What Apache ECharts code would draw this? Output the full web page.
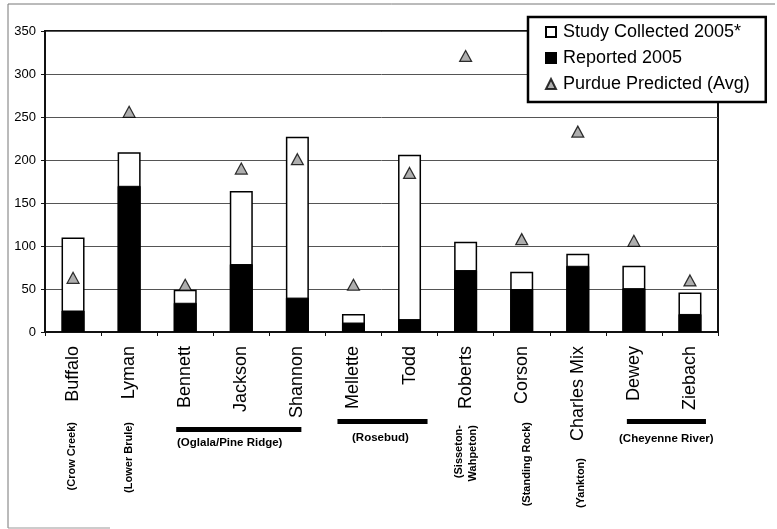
<!DOCTYPE html>
<html>
<head>
<meta charset="utf-8">
<script src="https://cdn.jsdelivr.net/npm/echarts@6/dist/echarts.min.js"></script>
<style>
  html,body{margin:0;padding:0;background:#fff;}
  #chart{width:777px;height:529px;}
</style>
</head>
<body>
<div id="chart"></div>
<script>
  // counties (x categories)
  var counties = ['Buffalo', 'Lyman', 'Bennett', 'Jackson', 'Shannon', 'Mellette', 'Todd', 'Roberts', 'Corson', 'Charles Mix', 'Dewey', 'Ziebach'];
  var studyCollected = [110, 209, 49, 164, 227, 21, 206, 105, 70, 91, 77, 46];
  var reported2005 = [25, 170, 34, 79, 40, 11, 15, 72, 50, 77, 51, 21];
  var purduePredicted = [63, 256, 55, 190, 201, 55, 185, 321, 108, 233, 106, 60];
  var seriesNames = ['Study Collected 2005*', 'Reported 2005', 'Purdue Predicted (Avg)'];

  // reservation labels under single counties
  var singleCounty = ['Buffalo', 'Lyman', 'Roberts', 'Corson', 'Charles Mix'];
  var singleTribe = ['(Crow Creek)', '(Lower Brule)', '(Sisseton-\nWahpeton)', '(Standing Rock)', '(Yankton)'];
  // reservations spanning several counties: first, last county
  var groupFirst = ['Bennett', 'Mellette', 'Dewey'];
  var groupLast = ['Shannon', 'Todd', 'Ziebach'];
  var groupTribe = ['(Oglala/Pine Ridge)', '(Rosebud)', '(Cheyenne River)'];

  var font = 'Arial, "Liberation Sans", sans-serif';
  var chart = echarts.init(document.getElementById('chart'));

  chart.setOption({
    animation: false,
    backgroundColor: '#fff',
    textStyle: {fontFamily: font},
    grid: {
      left: 45, right: 59, top: 31, bottom: 197,
      show: true, borderColor: '#111', borderWidth: 2
    },
    legend: {
      orient: 'vertical',
      left: 528, top: 17,
      padding: [6, 16, 9, 17],
      itemGap: 8,
      itemWidth: 10, itemHeight: 10,
      backgroundColor: '#fff',
      borderColor: '#000', borderWidth: 2.5,
      textStyle: {fontSize: 18, color: '#000', fontFamily: font, padding: [0, 0, 0, 2]},
      data: [
        {name: seriesNames[0], icon: 'rect'},
        {name: seriesNames[1], icon: 'rect'},
        {name: seriesNames[2], icon: 'triangle'}
      ]
    },
    xAxis: {
      type: 'category',
      data: counties,
      axisLine: {lineStyle: {color: '#111', width: 2}},
      axisTick: {show: true, length: 4, lineStyle: {color: '#111'}},
      axisLabel: {rotate: 90, margin: 14, fontSize: 18, color: '#000', fontFamily: font, interval: 0}
    },
    yAxis: {
      type: 'value',
      min: 0, max: 350, interval: 50,
      axisLine: {show: true, lineStyle: {color: '#111', width: 2}},
      axisTick: {show: true, length: 4, lineStyle: {color: '#111'}},
      axisLabel: {fontSize: 13, color: '#000', margin: 9, fontFamily: font},
      splitLine: {lineStyle: {color: '#555', width: 1}}
    },
    series: [
      {
        name: seriesNames[0],
        type: 'bar',
        data: studyCollected,
        barWidth: 23,
        barGap: '-100%',
        itemStyle: {color: '#fff', borderColor: '#000', borderWidth: 1.5}
      },
      {
        name: seriesNames[1],
        type: 'bar',
        data: reported2005,
        barWidth: 23,
        itemStyle: {color: '#000', borderColor: '#000', borderWidth: 1}
      },
      {
        name: seriesNames[2],
        type: 'scatter',
        data: purduePredicted,
        symbol: 'triangle',
        symbolSize: [12, 11],
        z: 5,
        itemStyle: {color: '#9a9a9a', borderColor: '#000', borderWidth: 1.2}
      }
    ]
  });

  function cx(name) {
    return chart.convertToPixel({xAxisIndex: 0}, name);
  }

  var graphics = [
    // outer frame of the scanned figure
    {type: 'line', shape: {x1: 8, y1: 4, x2: 8, y2: 528}, style: {stroke: '#777', lineWidth: 1}, silent: true},
    {type: 'line', shape: {x1: 8, y1: 4, x2: 775, y2: 4}, style: {stroke: '#777', lineWidth: 1}, silent: true},
    {type: 'line', shape: {x1: 8, y1: 528, x2: 110, y2: 528}, style: {stroke: '#999', lineWidth: 1}, silent: true}
  ];

  var singleTop = [422, 422, 425, 422, 458];
  var singleShift = [-1, 0, 0, 5, 3];
  for (var i = 0; i < singleCounty.length; i++) {
    graphics.push({
      type: 'text',
      x: cx(singleCounty[i]) + singleShift[i],
      y: singleTop[i],
      rotation: Math.PI / 2,
      style: {
        text: singleTribe[i],
        align: 'right', verticalAlign: 'middle',
        font: 'bold 11px ' + font, lineHeight: 14,
        fill: '#000'
      }
    });
  }

  var barY = [429, 421, 421];
  var textY = [443, 438, 439];
  var barPad = [[-9, 4], [-16, 18], [-7, 16]];
  var textX = [177, 352, 619];
  for (var j = 0; j < groupTribe.length; j++) {
    var x0 = cx(groupFirst[j]) + barPad[j][0];
    var x1 = cx(groupLast[j]) + barPad[j][1];
    graphics.push({
      type: 'rect',
      shape: {x: x0, y: barY[j] - 2, width: x1 - x0, height: 5},
      style: {fill: '#000'}
    });
    graphics.push({
      type: 'text',
      x: textX[j],
      y: textY[j],
      style: {
        text: groupTribe[j],
        align: 'left', verticalAlign: 'middle',
        font: 'bold 11.5px ' + font,
        fill: '#000'
      }
    });
  }

  chart.setOption({graphic: graphics});
</script>
</body>
</html>
